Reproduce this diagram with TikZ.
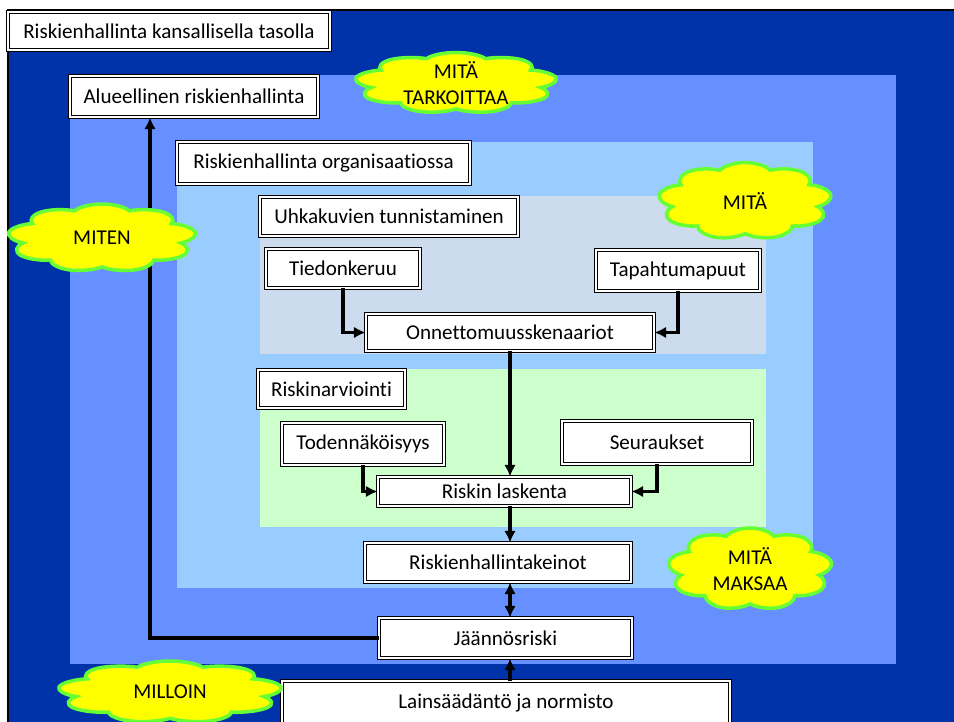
\documentclass[tikz,border=0pt]{standalone}
\usepackage{fontspec}
\setmainfont[Ligatures=NoCommon]{Carlito}
\usetikzlibrary{arrows.meta,shapes.symbols}

\definecolor{tummasin}{RGB}{0,51,170}
\definecolor{keskisin}{RGB}{102,144,255}
\definecolor{vaaleasin}{RGB}{153,204,255}
\definecolor{harmaasin}{RGB}{204,220,238}
\definecolor{vaaleavihr}{RGB}{204,255,204}
\definecolor{pilvikelt}{RGB}{255,255,0}
\definecolor{pilvireuna}{RGB}{102,255,51}

\tikzset{
  koko/.style 2 args={minimum width=#1*0.3mm, minimum height=#2*0.3mm},
  laatikko/.style={draw=black, line width=0.8pt, double=white, double distance=1.3pt,
    fill=white, inner sep=0pt, font=\fontsize{18}{22}\selectfont},
  pilvi/.style={cloud, cloud puffs=9, cloud puff arc=140, aspect=1, transform shape,
    fill=pilvikelt, draw=pilvireuna, line width=3pt, inner sep=0pt, minimum size=#1*0.3mm},
  pilviteksti/.style={align=center, font=\fontsize{18}{22}\selectfont},
  nuoli/.style={line width=2.6pt, -{Latex[length=10pt,width=10pt]}},
  kaksinuoli/.style={line width=2.6pt, {Latex[length=10pt,width=10pt]}-{Latex[length=10pt,width=10pt]}},
}

\begin{document}
\begin{tikzpicture}[x=0.3mm,y=-0.3mm]
	\useasboundingbox (0,0) rectangle (954,722);
	% taustat
	\fill[white] (0,0) rectangle (954,722);
	\draw[fill=tummasin, line width=1.5pt] (8,10) rectangle (964,732);
	\fill[keskisin] (70,75) rectangle (896,664);
	\fill[vaaleasin] (177,142) rectangle (813,588);
	\fill[harmaasin] (260,196) rectangle (766,354);
	\fill[vaaleavihr] (260,369) rectangle (766,527);
	% laatikot
	\node[laatikko, koko={322}{38}] (kans) at (169,31) {Riskienhallinta kansallisella tasolla};
	\node[laatikko, koko={248}{41}] (alue) at (194,96.5) {Alueellinen riskienhallinta};
	\node[laatikko, koko={293}{42}] (org) at (323.5,163) {Riskienhallinta organisaatiossa};
	\node[laatikko, koko={258}{39}] (uhka) at (389,216.5) {Uhkakuvien tunnistaminen};
	\node[laatikko, koko={154}{39}] (tied) at (343,268.5) {Tiedonkeruu};
	\node[laatikko, koko={164}{41}] (tapa) at (678,270.5) {Tapahtumapuut};
	\node[laatikko, koko={288}{37}] (onn) at (510,332.5) {Onnettomuusskenaariot};
	\node[laatikko, koko={147}{38}] (arvi) at (331.5,389) {Riskinarviointi};
	\node[laatikko, koko={162}{42}] (tod) at (363,444) {Todennäköisyys};
	\node[laatikko, koko={190}{43}] (seur) at (657,442.5) {Seuraukset};
	\node[laatikko, koko={253}{29}] (lask) at (504.5,491.5) {Riskin laskenta};
	\node[laatikko, koko={266}{39}] (keino) at (498,562.5) {Riskienhallintakeinot};
	\node[laatikko, koko={253}{40}] (jaan) at (505.5,638) {Jäännösriski};
	\node[laatikko, koko={448}{44}] (lain) at (506,703) {Lainsäädäntö ja normisto};
	% nuolet
	\coordinate (kulma) at (150,638);
	\draw[nuoli] (jaan.west) -- (kulma) -- (kulma |- alue.south);
	\draw[nuoli] (tied.south) |- (onn.west);
	\draw[nuoli] (tapa.south) |- (onn.east);
	\draw[nuoli] (onn.south) -- (onn.south |- lask.north);
	\draw[nuoli] (tod.south) |- (lask.west);
	\draw[nuoli] (seur.south) |- (lask.east);
	\draw[nuoli] (lask.south -| onn.south) -- (keino.north -| onn.south);
	\draw[kaksinuoli] (keino.south -| onn.south) -- (jaan.north -| onn.south);
	\draw[nuoli] (lain.north -| onn.south) -- (jaan.south -| onn.south);
	% pilvet (ympyräpilvi venytetään leveäksi)
	\begin{scope}[shift={(456,83)}, xscale=203/61]
		\node[pilvi=61] (tarkoittaa) {};
	\end{scope}
	\begin{scope}[shift={(745,201)}, xscale=174/77]
		\node[pilvi=77] (mita) {};
	\end{scope}
	\begin{scope}[shift={(102,238)}, xscale=189/68]
		\node[pilvi=68] (miten) {};
	\end{scope}
	\begin{scope}[shift={(750,569)}, xscale=165/82]
		\node[pilvi=82] (maksaa) {};
	\end{scope}
	\begin{scope}[shift={(170,692)}, xscale=225/62]
		\node[pilvi=62] (milloin) {};
	\end{scope}
	\node[pilviteksti] (tarkoittaa-t) at (tarkoittaa) {MITÄ\\TARKOITTAA};
	\node[pilviteksti] (mita-t) at (mita) {MITÄ};
	\node[pilviteksti] (miten-t) at (miten) {MITEN};
	\node[pilviteksti] (maksaa-t) at (maksaa) {MITÄ\\MAKSAA};
	\node[pilviteksti] (milloin-t) at (milloin) {MILLOIN};
\end{tikzpicture}
\end{document}
